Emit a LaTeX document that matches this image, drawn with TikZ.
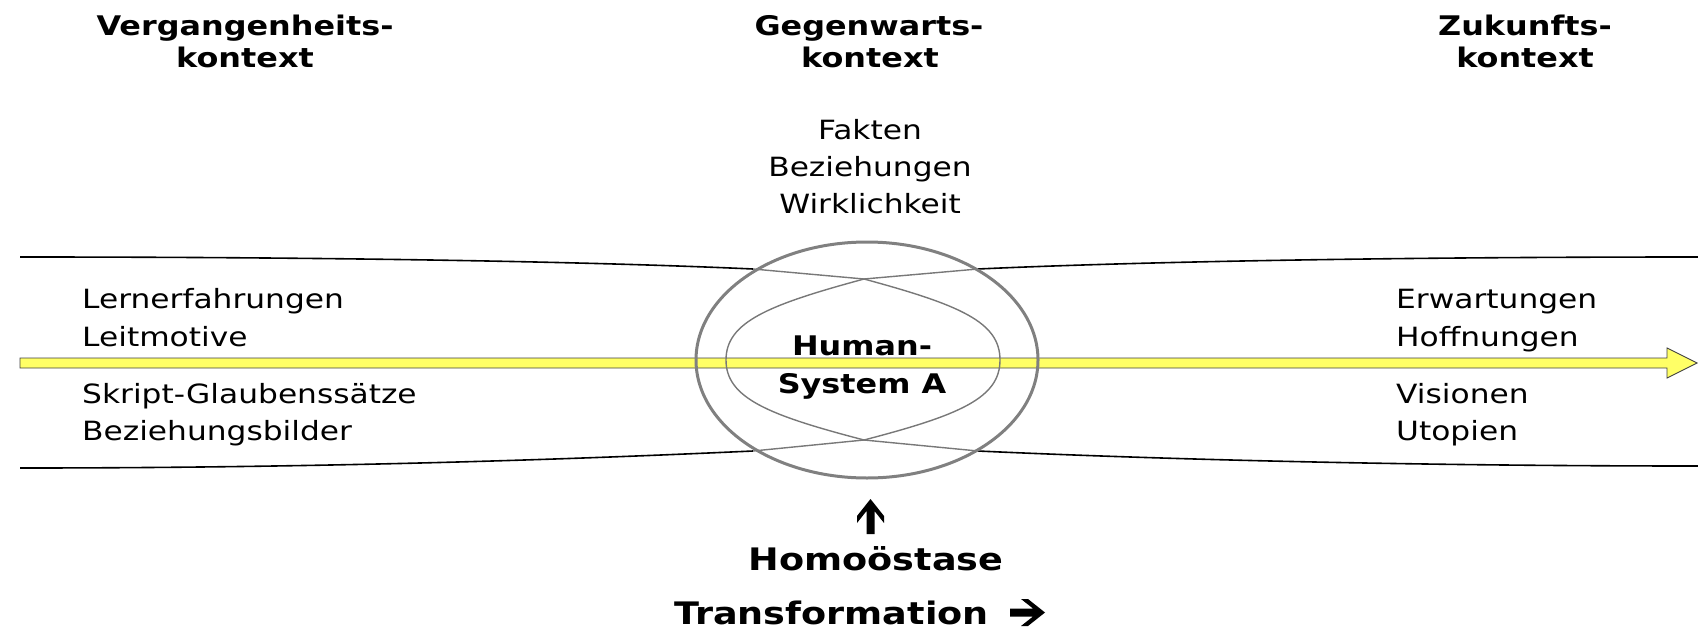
\documentclass[tikz,border=0pt]{standalone}
\usepackage{fontspec}
\setmainfont{DejaVu Sans}[FakeStretch=1.18]
\begin{document}
\begin{tikzpicture}[x=1pt,y=-1pt,
  body/.style={font=\fontsize{26.5}{32}\selectfont, inner sep=0pt},
  headtxt/.style={font=\fontsize{27}{32}\selectfont\bfseries, inner sep=0pt},
  bigtxt/.style={font=\fontsize{31}{36}\selectfont\bfseries, inner sep=0pt},
  blackline/.style={line width=1.6pt, black},
  grayline/.style={line width=1.4pt, color={rgb,255:red,120;green,120;blue,120}},
  ring/.style={line width=3pt, color={rgb,255:red,128;green,128;blue,128}},
  yarrow/.style={fill={rgb,255:red,255;green,255;blue,102}, draw=black!75, line width=0.9pt, line join=miter},
  heavyarrow/.pic={\fill[black] (0,0) -- (-17,-13.5) -- (-24,-13.5) -- (-12,-4) -- (-35,-4)
      -- (-35,4) -- (-12,4) -- (-24,13.5) -- (-17,13.5) -- cycle;},
  ]
\useasboundingbox (0,0) rectangle (1698,632);

% funnel lines
\coordinate (TL) at (20,257);
\coordinate (TLe) at (753,269);
\coordinate (TC) at (864,279);
\coordinate (TRe) at (978,269);
\coordinate (TR) at (1698,257);
\coordinate (BL) at (20,468);
\coordinate (BLe) at (753,451);
\coordinate (BC) at (864,440);
\coordinate (BRe) at (978,451);
\coordinate (BR) at (1698,466);

\draw[blackline] (TL) .. controls (350,257) and (600,262) .. (TLe);
\draw[blackline] (TRe) .. controls (1130,262) and (1380,257) .. (TR);
\draw[blackline] (BL) .. controls (350,468) and (600,458) .. (BLe);
\draw[blackline] (BRe) .. controls (1130,458) and (1380,466) .. (BR);

% yellow arrow
\draw[yarrow] (20,358) -- (1667,358) -- (1667,348) -- (1697,363) -- (1667,378) -- (1667,368) -- (20,368) -- cycle;

% inner overlapping curves
\draw[grayline] (TLe) -- (TC) .. controls (960,305) and (1000,322) .. (1000,360)
  .. controls (1000,398) and (960,415) .. (BC) -- (BLe);
\draw[grayline] (TRe) -- (TC) .. controls (768,305) and (726,322) .. (726,360)
  .. controls (726,398) and (768,415) .. (BC) -- (BRe);

% outer ellipse
\draw[ring] (867,360) ellipse [x radius=171pt, y radius=118pt];

% headings
\node[headtxt, anchor=base] (h1a) at (245,35) {Vergangenheits-};
\node[headtxt, anchor=base] (h1b) at (245,67) {kontext};
\node[headtxt, anchor=base] (h2a) at (869,35) {Gegenwarts-};
\node[headtxt, anchor=base] (h2b) at (870,67) {kontext};
\node[headtxt, anchor=base] (h3a) at (1525,35) {Zukunfts-};
\node[headtxt, anchor=base] (h3b) at (1525,67) {kontext};

% present column
\node[body, anchor=base] (f1) at (870,139) {Fakten};
\node[body, anchor=base] (f2) at (870,176) {Beziehungen};
\node[body, anchor=base] (f3) at (870,213) {Wirklichkeit};

% left column
\node[body, anchor=base west] (l1) at (82,308) {Lernerfahrungen};
\node[body, anchor=base west] (l2) at (82,346) {Leitmotive};
\node[body, anchor=base west] (l3) at (82,403) {Skript-Glaubenssätze};
\node[body, anchor=base west] (l4) at (82,440) {Beziehungsbilder};

% right column
\node[body, anchor=base west] (r1) at (1396,308) {Erwartungen};
\node[body, anchor=base west] (r2) at (1396,346) {Hoffnungen};
\node[body, anchor=base west] (r3) at (1396,403) {Visionen};
\node[body, anchor=base west] (r4) at (1396,440) {Utopien};

% centre
\node[headtxt, anchor=base] (hs1) at (862,355) {Human-};
\node[headtxt, anchor=base] (hs2) at (862,393) {System A};

% bottom
\pic (uparr) [rotate=90] at (870.5,499) {heavyarrow};
\node[bigtxt, anchor=base] (homo) at (876,570) {Homoöstase};
\node[bigtxt, anchor=base west] (trans) at (674,624) {Transformation};
\pic (rightarr) at (1045,612.5) {heavyarrow};
\end{tikzpicture}
\end{document}
